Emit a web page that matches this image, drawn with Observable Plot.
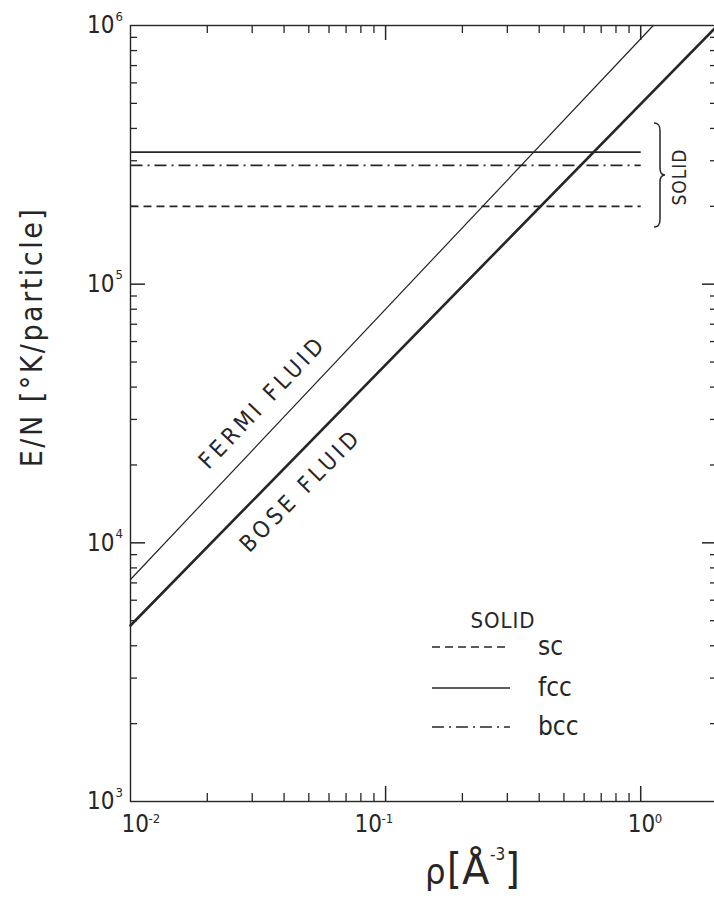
<!DOCTYPE html>
<html>
<head>
<meta charset="utf-8">
<script src="https://cdn.jsdelivr.net/npm/d3@7"></script>
<script src="https://cdn.jsdelivr.net/npm/@observablehq/plot@0.6"></script>
<style>
  html, body { margin: 0; padding: 0; background: #fff; overflow: hidden; }
  #chart svg { display: block; max-width: none; }
</style>
</head>
<body>
<div id="chart"></div>
<script>
// ---------- data ----------
// Fluid energies (straight lines on log-log axes): endpoints
const fermiRho = [0.01, 1.12];
const fermiE   = [7215, 1.0e6];
const boseRho  = [0.01, 2.0];
const boseE    = [4790, 1.0e6];

// Solid lattice energies (horizontal lines from rho = 1e-2 to 1e0)
const solidNames = ["sc", "fcc", "bcc"];
const solidE     = [2.0e5, 3.24e5, 2.88e5];
const solidRho   = [0.01, 1.0];

// Axis ticks
const xMajor = [0.1, 1];
const xMinor = [0.02, 0.03, 0.04, 0.05, 0.06, 0.07, 0.08, 0.09,
                0.2, 0.3, 0.4, 0.5, 0.6, 0.7, 0.8, 0.9];
const yMajor = [1e4, 1e5];
const yMinor = [2e3, 3e3, 4e3, 5e3, 6e3, 7e3, 8e3, 9e3,
                2e4, 3e4, 4e4, 5e4, 6e4, 7e4, 8e4, 9e4,
                2e5, 3e5, 4e5, 5e5, 6e5, 7e5, 8e5, 9e5];
const xTickValues = [0.01, 0.1, 1];
const xTickExps   = ["-2", "-1", "0"];
const yTickValues = [1e3, 1e4, 1e5, 1e6];
const yTickExps   = ["3", "4", "5", "6"];

// Texts
const fluidLabels = [
  {name: "FERMI FLUID", rho: 0.033},
  {name: "BOSE FLUID",  rho: 0.0465}
];
const yTitle = "E/N [°K/particle]";

// ---------- tables ----------
const fermi = fermiRho.map((r, i) => ({rho: r, E: fermiE[i]}));
const bose  = boseRho.map((r, i) => ({rho: r, E: boseE[i]}));
const solids = solidNames.map((n, i) => solidRho.map(r => ({name: n, rho: r, E: solidE[i]})));
function onLine(xs, ys, x) {
  const lx0 = Math.log10(xs[0]), lx1 = Math.log10(xs[1]);
  const ly0 = Math.log10(ys[0]), ly1 = Math.log10(ys[1]);
  const t = (Math.log10(x) - lx0) / (lx1 - lx0);
  return Math.pow(10, ly0 + t * (ly1 - ly0));
}
const fermiLab = [{...fluidLabels[0], E: onLine(fermiRho, fermiE, fluidLabels[0].rho)}];
const boseLab  = [{...fluidLabels[1], E: onLine(boseRho, boseE, fluidLabels[1].rho)}];
const xTicks = xTickValues.map((v, i) => ({v, exp: xTickExps[i]}));
const yTicks = yTickValues.map((v, i) => ({v, exp: yTickExps[i]}));

// ---------- layout / style ----------
const W = 714, H = 898;
const mL = 130, mR = -3, mT = 25, mB = 97;
const frameW = W - mL - mR;
const frameH = H - mT - mB;
const ink = "#262626";
const font = "'DejaVu Sans Condensed', 'DejaVu Sans', sans-serif";
const dashes = {sc: "8,5", fcc: null, bcc: "12,5,2,5"};
const xLabelDx = [-9, -31, -13];   // horizontal shift of each "10" below the x axis

const marks = [
  // ticks: inward, on all four sides
  Plot.tickX(xMinor, {x: d => d, insetTop: frameH - 8, stroke: ink, strokeWidth: 1.3}),
  Plot.tickX(xMajor, {x: d => d, insetTop: frameH - 15, stroke: ink, strokeWidth: 1.5}),
  Plot.tickX(xMinor, {x: d => d, insetBottom: frameH - 8, stroke: ink, strokeWidth: 1.3}),
  Plot.tickX(xMajor, {x: d => d, insetBottom: frameH - 15, stroke: ink, strokeWidth: 1.5}),
  Plot.tickY(yMinor, {y: d => d, insetRight: frameW - 7, stroke: ink, strokeWidth: 1.3}),
  Plot.tickY(yMajor, {y: d => d, insetRight: frameW - 15, stroke: ink, strokeWidth: 1.5}),
  Plot.tickY(yMinor, {y: d => d, insetLeft: frameW - 7, stroke: ink, strokeWidth: 1.3}),
  Plot.tickY(yMajor, {y: d => d, insetLeft: frameW - 15, stroke: ink, strokeWidth: 1.5}),
  Plot.frame({stroke: ink, strokeWidth: 1.4}),

  // solid lines
  ...solids.map(s => Plot.line(s, {
    x: "rho", y: "E", stroke: ink, strokeWidth: 1.7,
    strokeDasharray: dashes[s[0].name], strokeLinecap: "butt"
  })),

  // fluid lines
  Plot.line(fermi, {x: "rho", y: "E", stroke: ink, strokeWidth: 1.2}),
  Plot.line(bose,  {x: "rho", y: "E", stroke: ink, strokeWidth: 2.6}),

  // fluid labels
  Plot.text(fermiLab, {x: "rho", y: "E", text: "name", rotate: -46.5, dy: -37,
    fontSize: 23, fill: ink}),
  Plot.text(boseLab, {x: "rho", y: "E", text: "name", rotate: -45.5, dy: 39,
    fontSize: 23, fill: ink}),

  // y tick labels
  Plot.text(yTicks, {y: "v", frameAnchor: "left", text: () => "10",
    textAnchor: "end", dx: -16, fontSize: 24, fill: ink}),
  Plot.text(yTicks, {y: "v", frameAnchor: "left", text: "exp",
    textAnchor: "start", dx: -15, dy: -9, fontSize: 13, fill: ink})
];
// x tick labels ("10" plus raised exponent)
xTicks.forEach((t, i) => {
  marks.push(Plot.text([t], {x: "v", frameAnchor: "bottom", text: () => "10",
    textAnchor: "start", dx: xLabelDx[i], dy: 30, fontSize: 24, fill: ink}));
  marks.push(Plot.text([t], {x: "v", frameAnchor: "bottom", text: "exp",
    textAnchor: "start", dx: xLabelDx[i] + 27, dy: 21, fontSize: 13, fill: ink}));
});

const chart = Plot.plot({
  width: W, height: H,
  marginLeft: mL, marginRight: mR, marginTop: mT, marginBottom: mB,
  x: {type: "log", domain: [0.01, 2], axis: null},
  y: {type: "log", domain: [1e3, 1e6], axis: null},
  style: {fontFamily: font, color: ink, background: "#fff"},
  marks
});

document.getElementById("chart").appendChild(chart);

// ---------- annotations ----------
const svg = d3.select(chart);
svg.selectAll("text").filter(function () { return this.textContent.includes("FLUID"); })
  .style("letter-spacing", "4px");

// y-axis title
svg.append("text")
  .attr("transform", "translate(42,337) rotate(-90)")
  .attr("text-anchor", "middle")
  .attr("fill", ink)
  .style("font-family", font)
  .style("font-size", "30px")
  .style("letter-spacing", "2.5px")
  .text(yTitle);

// x-axis title: rho [A^-3]
const xt = svg.append("g").attr("fill", ink).attr("text-anchor", "start")
  .style("font-family", font);
xt.append("text").attr("x", 425).attr("y", 884).style("font-size", "36px").text("ρ");
xt.append("text").attr("x", 447).attr("y", 884).style("font-size", "42px").text("[");
xt.append("text").attr("x", 462).attr("y", 884).style("font-family", "'DejaVu Sans', sans-serif")
  .style("font-size", "40px").text("Å");
xt.append("text").attr("x", 490).attr("y", 860).style("font-size", "17px").text("-3");
xt.append("text").attr("x", 505).attr("y", 884).style("font-size", "42px").text("]");

// brace + SOLID on the right
svg.append("path")
  .attr("d", "M654,123 C659,123 660,126 660,131 L660,168 C660,173 662,175 665,175 C662,175 660,177 660,182 L660,219 C660,224 659,227 654,227")
  .attr("fill", "none").attr("stroke", ink).attr("stroke-width", 1.5);
svg.append("text")
  .attr("transform", "translate(686,177) rotate(-90)")
  .attr("text-anchor", "middle")
  .attr("fill", ink)
  .style("font-family", font)
  .style("font-size", "19px")
  .style("letter-spacing", "1px")
  .text("SOLID");

// legend
const lg = svg.append("g").style("font-family", font).attr("fill", ink);
lg.append("text").attr("x", 503).attr("y", 628).attr("text-anchor", "middle")
  .style("font-size", "22px").style("letter-spacing", "1px").text("SOLID");
const legY = [647, 688, 727];
solidNames.forEach((n, i) => {
  lg.append("line").attr("x1", 432).attr("x2", 510).attr("y1", legY[i]).attr("y2", legY[i])
    .attr("stroke", ink).attr("stroke-width", 1.7)
    .attr("stroke-dasharray", dashes[n]);
  lg.append("text").attr("x", 538).attr("y", legY[i] + 8).attr("text-anchor", "start")
    .style("font-size", "26px").text(n);
});
</script>
</body>
</html>
